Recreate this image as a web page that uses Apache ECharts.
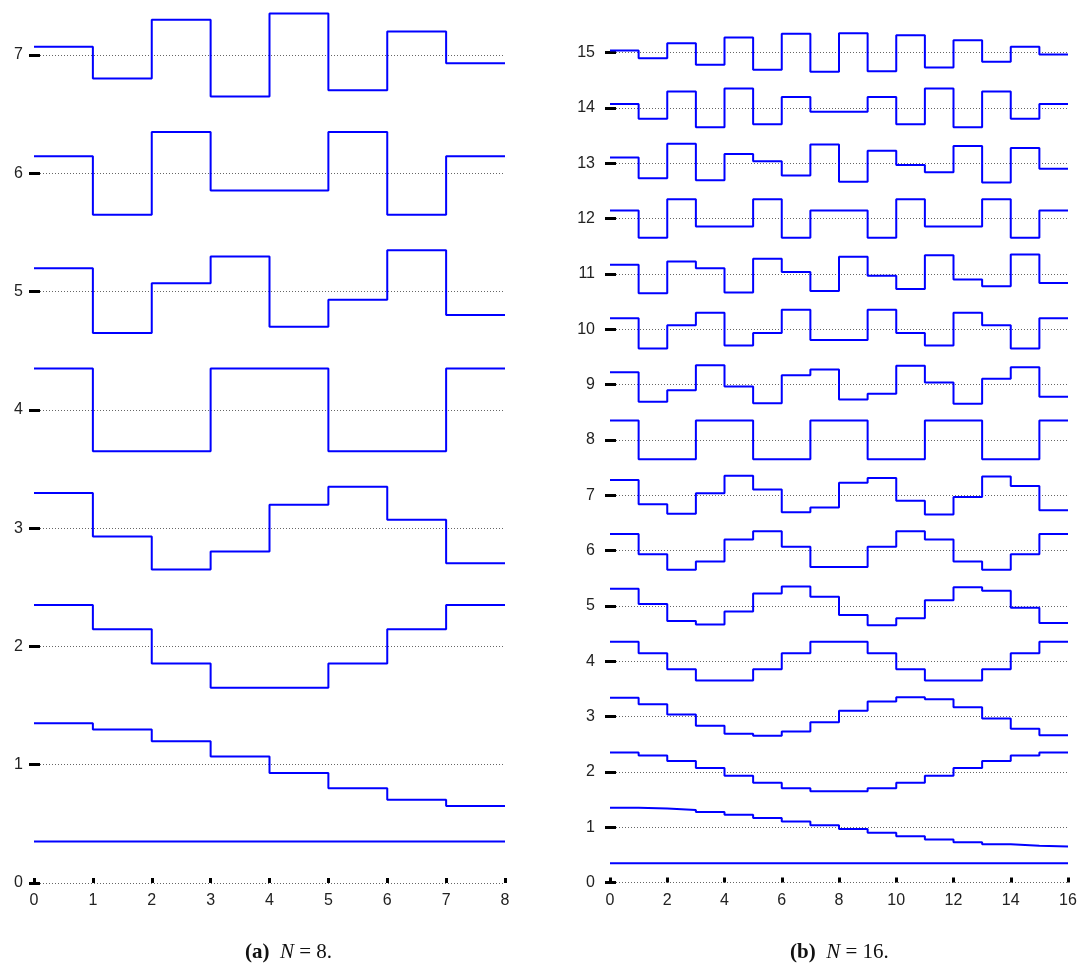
<!DOCTYPE html>
<html>
<head>
<meta charset="utf-8">
<script src="https://cdn.jsdelivr.net/npm/echarts@6/dist/echarts.min.js"></script>
<style>
    html, body { margin: 0; padding: 0; background: #fff; }
    #chart { width: 1082px; height: 965px; }
</style>
</head>
<body>
<div id="chart"></div>
<script>
// (a) N = 8 : heights of each step row, row k sits around y = k
var rowsA = [
    [0.35, 0.35, 0.35, 0.35, 0.35, 0.35, 0.35, 0.35],
    [1.350, 1.297, 1.198, 1.070, 0.930, 0.802, 0.703, 0.650],
    [2.350, 2.145, 1.855, 1.650, 1.650, 1.855, 2.145, 2.350],
    [3.297, 2.930, 2.650, 2.802, 3.198, 3.350, 3.070, 2.703],
    [4.350, 3.650, 3.650, 4.350, 4.350, 3.650, 3.650, 4.350],
    [5.198, 4.650, 5.070, 5.297, 4.703, 4.930, 5.350, 4.802],
    [6.145, 5.650, 6.350, 5.855, 5.855, 6.350, 5.650, 6.145],
    [7.070, 6.802, 7.297, 6.650, 7.350, 6.703, 7.198, 6.930]
]

// (b) N = 16
var rowsB = [
    [0.35, 0.35, 0.35, 0.35, 0.35, 0.35, 0.35, 0.35, 0.35, 0.35, 0.35, 0.35, 0.35, 0.35, 0.35, 0.35],
    [1.350, 1.337, 1.310, 1.272, 1.223, 1.166, 1.102, 1.035, 0.965, 0.898, 0.834, 0.777, 0.728, 0.690, 0.663, 0.650],
    [2.350, 2.297, 2.198, 2.070, 1.930, 1.802, 1.703, 1.650, 1.650, 1.703, 1.802, 1.930, 2.070, 2.198, 2.297, 2.350],
    [3.337, 3.223, 3.035, 2.834, 2.690, 2.650, 2.728, 2.898, 3.102, 3.272, 3.350, 3.310, 3.166, 2.965, 2.777, 2.663],
    [4.350, 4.145, 3.855, 3.650, 3.650, 3.855, 4.145, 4.350, 4.350, 4.145, 3.855, 3.650, 3.650, 3.855, 4.145, 4.350],
    [5.310, 5.035, 4.728, 4.663, 4.898, 5.223, 5.350, 5.166, 4.834, 4.650, 4.777, 5.102, 5.337, 5.272, 4.965, 4.690],
    [6.297, 5.930, 5.650, 5.802, 6.198, 6.350, 6.070, 5.703, 5.703, 6.070, 6.350, 6.198, 5.802, 5.650, 5.930, 6.297],
    [7.272, 6.834, 6.663, 7.035, 7.350, 7.102, 6.690, 6.777, 7.223, 7.310, 6.898, 6.650, 6.965, 7.337, 7.166, 6.728],
    [8.350, 7.650, 7.650, 8.350, 8.350, 7.650, 7.650, 8.350, 8.350, 7.650, 7.650, 8.350, 8.350, 7.650, 7.650, 8.350],
    [9.223, 8.690, 8.898, 9.350, 8.965, 8.663, 9.166, 9.272, 8.728, 8.834, 9.337, 9.035, 8.650, 9.102, 9.310, 8.777],
    [10.198, 9.650, 10.070, 10.297, 9.703, 9.930, 10.350, 9.802, 9.802, 10.350, 9.930, 9.703, 10.297, 10.070, 9.650, 10.198],
    [11.166, 10.650, 11.223, 11.102, 10.663, 11.272, 11.035, 10.690, 11.310, 10.965, 10.728, 11.337, 10.898, 10.777, 11.350, 10.834],
    [12.145, 11.650, 12.350, 11.855, 11.855, 12.350, 11.650, 12.145, 12.145, 11.650, 12.350, 11.855, 11.855, 12.350, 11.650, 12.145],
    [13.102, 12.728, 13.350, 12.690, 13.166, 13.035, 12.777, 13.337, 12.663, 13.223, 12.965, 12.834, 13.310, 12.650, 13.272, 12.898],
    [14.070, 13.802, 14.297, 13.650, 14.350, 13.703, 14.198, 13.930, 13.930, 14.198, 13.703, 14.350, 13.650, 14.297, 13.802, 14.070],
    [15.035, 14.898, 15.166, 14.777, 15.272, 14.690, 15.337, 14.650, 15.350, 14.663, 15.310, 14.728, 15.223, 14.834, 15.102, 14.965]
]

var captions = ['(a)', '(b)']
var sizes = [8, 16]

var labelFont = 'Liberation Sans'

function yAxisOf(idx, max, margin) {
    return {
        type: 'value', gridIndex: idx, min: 0, max: max, interval: 1,
        offset: -6,
        axisLine: { show: false },
        axisTick: { show: true, length: 11, lineStyle: { color: '#000', width: 3 } },
        axisLabel: { margin: margin, color: '#222', fontSize: 16, fontFamily: labelFont },
        splitLine: { show: true, lineStyle: { color: '#666', width: 1, type: [1, 2] } }
    }
}

function xAxisOf(idx, max, step) {
    return {
        type: 'value', gridIndex: idx, min: 0, max: max, interval: step,
        axisLine: { show: false },
        axisTick: { show: true, inside: true, length: 5, lineStyle: { color: '#000', width: 3 } },
        axisLabel: { margin: 10, color: '#222', fontSize: 16, fontFamily: labelFont },
        splitLine: { show: false }
    }
}

function stepSeries(rows, idx) { // one step line per row
    var n = rows[0].length
    return rows.map(function (row) {
        var pts = row.map(function (v, i) { return [i, v] })
        pts.push([n, row[n - 1]])
        return {
            type: 'line', xAxisIndex: idx, yAxisIndex: idx,
            step: 'end', showSymbol: false, clip: false, silent: true,
            lineStyle: { color: '#0000ff', width: 2 },
            data: pts
        }
    })
}

var chart = echarts.init(document.getElementById('chart'))

chart.setOption({
    animation: false,
    backgroundColor: '#fff',
    grid: [
        { left: 34, top: 55, width: 471, height: 828 },
        { left: 610, top: 52.5, width: 458, height: 830 }
    ],
    xAxis: [xAxisOf(0, sizes[0], 1), xAxisOf(1, sizes[1], 2)],
    yAxis: [yAxisOf(0, 7, 17), yAxisOf(1, 15, 21)],
    series: stepSeries(rowsA, 0).concat(stepSeries(rowsB, 1)),
    graphic: captions.map(function (c, i) {
        return {
            type: 'text',
            left: i === 0 ? 245 : 790,
            top: 942,
            style: {
                text: '{b|' + c + '}  {i|N} = ' + sizes[i] + '.',
                fontFamily: 'Liberation Serif',
                fontSize: 21,
                fill: '#111',
                rich: {
                    b: { fontWeight: 'bold', fontSize: 21, fontFamily: 'Liberation Serif' },
                    i: { fontStyle: 'italic', fontSize: 21, fontFamily: 'Liberation Serif' }
                }
            }
        }
    })
})
</script>
</body>
</html>
